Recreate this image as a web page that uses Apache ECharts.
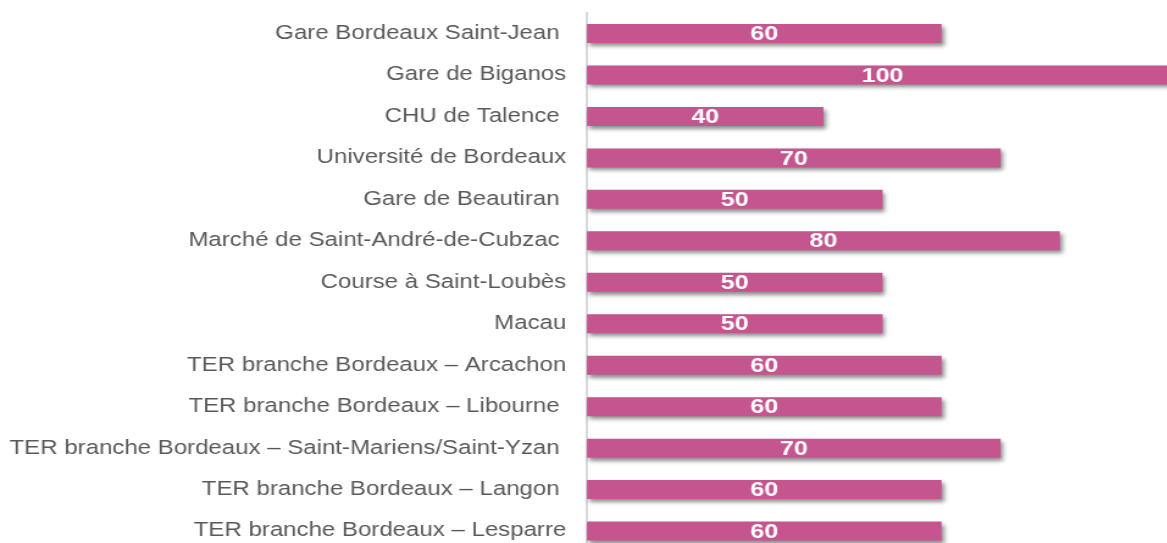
<!DOCTYPE html>
<html>
<head>
<meta charset="utf-8">
<script src="https://cdn.jsdelivr.net/npm/echarts@6/dist/echarts.min.js"></script>
<style>
  html, body { margin: 0; padding: 0; background: #fff; overflow: hidden; }
  #wrap { width: 1167px; height: 543px; overflow: hidden; position: relative; }
  #chart { height: 543px; transform-origin: 0 0; }
</style>
</head>
<body>
<div id="wrap"><div id="chart"></div></div>
<script>
const categories = [
  "Gare Bordeaux Saint-Jean ",
  "Gare de Biganos",
  "CHU de Talence ",
  "Université de Bordeaux",
  "Gare de Beautiran ",
  "Marché de Saint-André-de-Cubzac ",
  "Course à Saint-Loubès",
  "Macau",
  "TER branche Bordeaux – Arcachon",
  "TER branche Bordeaux – Libourne ",
  "TER branche Bordeaux – Saint-Mariens/Saint-Yzan ",
  "TER branche Bordeaux – Langon ",
  "TER branche Bordeaux – Lesparre"
];
const values = [60, 100, 40, 70, 50, 80, 50, 50, 60, 60, 70, 60, 60];

// horizontal stretch of the reference rendering
const sx = 1.22;
const W = 1167 / sx;
const el = document.getElementById('chart');
el.style.width = W + 'px';
el.style.transform = 'scaleX(' + sx + ')';

const chart = echarts.init(el, null, { renderer: 'canvas' });
const font = '"Liberation Sans", Arial, sans-serif';
chart.setOption({
  animation: false,
  grid: {
    left: 587 / sx,
    width: (1178 - 587) / sx,
    top: 12.8,
    height: 13 * 41.46,
    containLabel: false,
    outerBoundsMode: 'none'
  },
  xAxis: {
    type: 'value',
    min: 0,
    max: 100,
    show: false
  },
  yAxis: {
    type: 'category',
    data: categories,
    inverse: true,
    offset: 1,
    axisLine: { show: true, lineStyle: { color: '#D9D9D9', width: 2 } },
    axisTick: { show: false },
    axisLabel: {
      color: '#595959',
      fontSize: 19.7,
      fontFamily: font,
      margin: 16,
      padding: [3, 0, 0, 0]
    },
    splitLine: { show: false }
  },
  series: [{
    type: 'bar',
    data: values,
    barWidth: 19,
    itemStyle: {
      color: '#C4558F',
      shadowColor: 'rgba(0,0,0,0.45)',
      shadowBlur: 4,
      shadowOffsetX: 2,
      shadowOffsetY: 3
    },
    label: {
      show: true,
      position: 'inside',
      offset: [0, 1],
      color: '#FFFFFF',
      fontWeight: 'bold',
      fontSize: 20.5,
      fontFamily: font
    }
  }]
});
</script>
</body>
</html>
